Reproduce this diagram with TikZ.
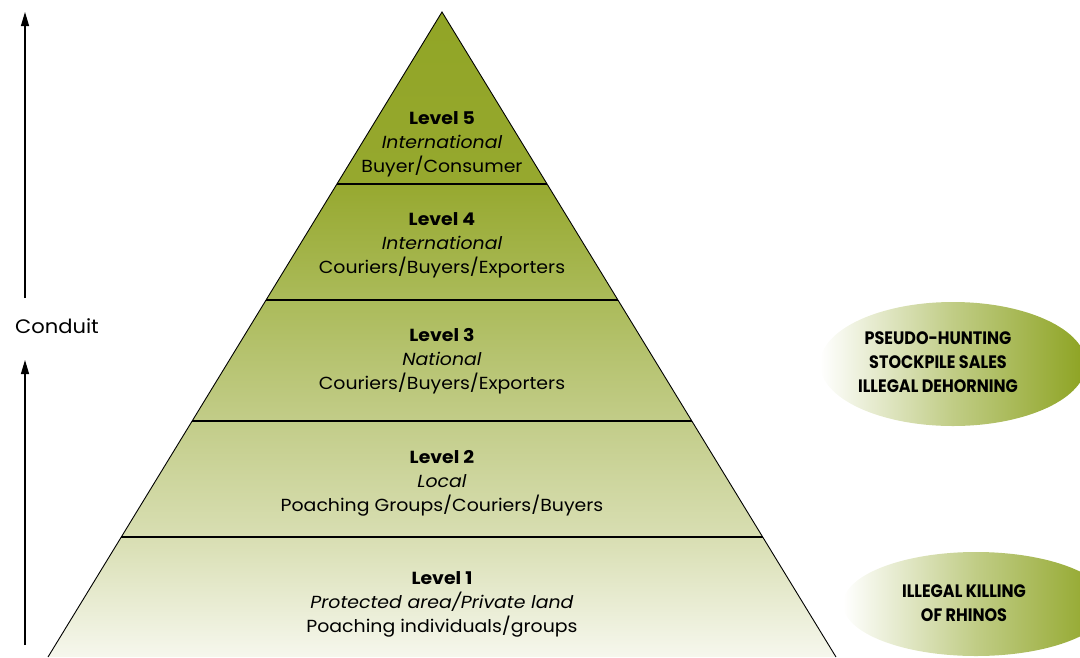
\documentclass[tikz,border=0pt]{standalone}
\usepackage{fontspec}
\setmainfont{Poppins}[FakeStretch=1.08]
\newfontfamily\ellfont{Poppins}[FakeStretch=0.89]
\usetikzlibrary{arrows.meta,calc,shapes.geometric}
\definecolor{pc0}{RGB}{246,247,237}
\definecolor{pc1}{RGB}{217,223,180}
\definecolor{pc2}{RGB}{195,205,138}
\definecolor{pc3}{RGB}{170,186,88}
\definecolor{pc4}{RGB}{150,168,46}
\definecolor{pc5}{RGB}{145,165,38}
\definecolor{elgreen}{RGB}{141,163,34}
\pgfdeclareverticalshading{pyrshade}{100bp}{color(0bp)=(pc0); color(25bp)=(pc0); color(34bp)=(pc1); color(43bp)=(pc2); color(53bp)=(pc3); color(62bp)=(pc4); color(75bp)=(pc5); color(100bp)=(pc5)}
\pgfdeclarehorizontalshading{ellshade}{100bp}{color(0bp)=(white); color(25bp)=(white); color(50bp)=(elgreen!55!white); color(75bp)=(elgreen); color(100bp)=(elgreen)}
\tikzset{
  lvltext/.style={align=center, font=\fontsize{17.5}{24}\selectfont, inner sep=0pt},
  elltext/.style={align=center, font=\ellfont\fontsize{18}{24}\selectfont\bfseries, inner sep=0pt},
  ellbox/.style={ellipse, shading=ellshade, draw=none, inner sep=0pt},
  sep/.style={line width=1.1pt},
  uparrow/.style={line width=1.1pt, -{Triangle[width=8pt,length=14pt]}},
}
\begin{document}
\begin{tikzpicture}[x=1pt,y=-1pt]
\useasboundingbox (0,0) rectangle (1080,657);
\coordinate (A) at (442,12);
\coordinate (BL) at (48,657);
\coordinate (BR) at (836,657);
\shade[shading=pyrshade] (A) -- (BL) -- (BR) -- cycle;
\draw[line width=0.9pt] (BL) -- (A) -- (BR);
\foreach \t [count=\i] in {0.2667,0.4465,0.6341,0.8140} {
  \coordinate (L\i) at ($(A)!\t!(BL)$);
  \coordinate (R\i) at ($(A)!\t!(BR)$);
  \draw[sep] (L\i) -- (R\i);
}
\node[lvltext] (lv5) at (442,144) {\textbf{Level 5}\\\textit{International}\\Buyer/Consumer};
\node[lvltext] (lv4) at (442,245) {\textbf{Level 4}\\\textit{International}\\Couriers/Buyers/Exporters};
\node[lvltext] (lv3) at (442,361) {\textbf{Level 3}\\\textit{National}\\Couriers/Buyers/Exporters};
\node[lvltext] (lv2) at (442,483) {\textbf{Level 2}\\\textit{Local}\\Poaching Groups/Couriers/Buyers};
\node[lvltext] (lv1) at (442,604) {\textbf{Level 1}\\\textit{Protected area/Private land}\\Poaching individuals/groups};
\node[ellbox, minimum width=266pt, minimum height=124pt] (e1) at (953,364) {};
\node[elltext] (t1) at (938,362) {PSEUDO-HUNTING\\STOCKPILE SALES\\ILLEGAL DEHORNING};
\node[ellbox, minimum width=266pt, minimum height=104pt] (e2) at (976,604) {};
\node[elltext] (t2) at (964,603) {ILLEGAL KILLING\\OF RHINOS};
\node[lvltext, font=\fontsize{19.5}{22}\selectfont] (cond) at (57,326) {Conduit};
\coordinate (a1s) at (25,298);
\coordinate (a1e) at (25,12);
\coordinate (a2s) at (25,645);
\coordinate (a2e) at (25,360);
\draw[uparrow] (a1s) -- (a1e);
\draw[uparrow] (a2s) -- (a2e);
\end{tikzpicture}
\end{document}
